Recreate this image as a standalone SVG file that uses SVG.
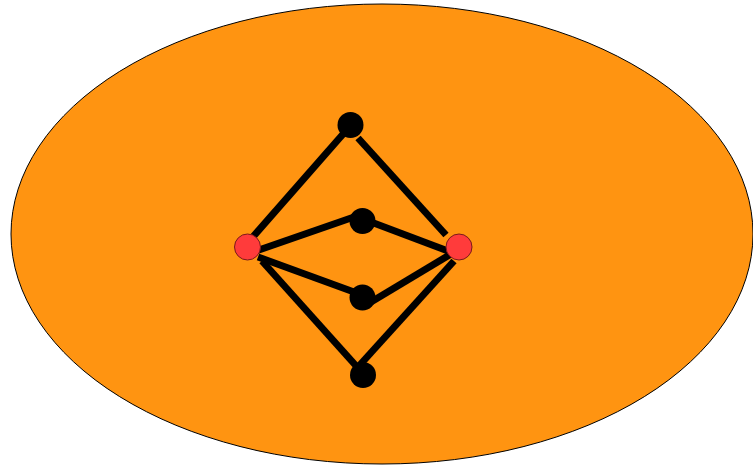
<svg xmlns="http://www.w3.org/2000/svg" width="753" height="466" viewBox="0 0 753 466">
<style>
.edge{stroke:#000;stroke-width:7;fill:none}
.blk{fill:#000}
.red{fill:#ff3b3b;stroke:#7a1a1a;stroke-width:1}
</style>
<rect width="753" height="466" fill="#fff"/>
<g id="region"><ellipse cx="382" cy="234" rx="371" ry="230" fill="#ff9411" stroke="#000" stroke-width="1"/></g>
<g id="connectors">
<line class="edge" x1="251" y1="239" x2="344" y2="133"/>
<line class="edge" x1="358" y1="138" x2="446" y2="235"/>
<line class="edge" x1="256" y1="251" x2="354" y2="217"/>
<line class="edge" x1="371" y1="222" x2="448" y2="251"/>
<line class="edge" x1="258" y1="257" x2="354" y2="292"/>
<line class="edge" x1="371" y1="302" x2="451" y2="254"/>
<line class="edge" x1="262" y1="261" x2="358" y2="368"/>
<line class="edge" x1="358" y1="367" x2="454" y2="261"/>
</g>
<g id="n_top"><circle class="blk" cx="350.5" cy="125" r="13"/></g>
<g id="n_mid1"><circle class="blk" cx="362.5" cy="221" r="13"/></g>
<g id="n_mid2"><circle class="blk" cx="362.5" cy="297.5" r="13"/></g>
<g id="n_bot"><circle class="blk" cx="363" cy="375" r="13"/></g>
<g id="n_left"><circle class="red" cx="247.5" cy="247" r="13"/></g>
<g id="n_right"><circle class="red" cx="459" cy="247" r="13"/></g>
</svg>
